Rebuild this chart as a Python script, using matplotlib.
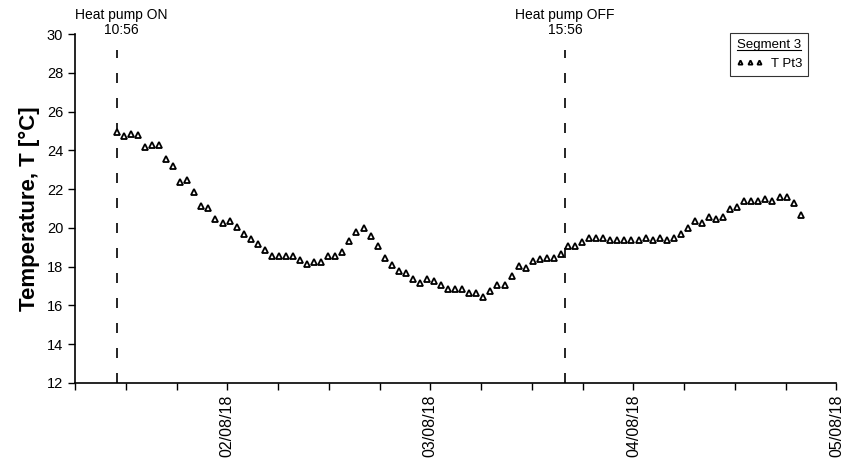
import matplotlib
matplotlib.use("Agg")
import matplotlib.pyplot as plt
import matplotlib.dates as mdates
from matplotlib.lines import Line2D
import pandas as pd
from datetime import datetime

plt.rcParams['font.family'] = ['Liberation Sans', 'DejaVu Sans']

# ---- data ----
start_time = datetime(2018, 8, 1, 10, 56)
sample_step = '50min'
t_pt3 = [24.93, 24.74, 24.86, 24.77, 24.19, 24.27, 24.27, 23.55, 23.19, 22.37,
         22.45, 21.87, 21.14, 21.04, 20.44, 20.25, 20.37, 20.06, 19.67, 19.44,
         19.15, 18.84, 18.55, 18.55, 18.55, 18.55, 18.34, 18.15, 18.26, 18.26,
         18.55, 18.55, 18.76, 19.34, 19.77, 19.98, 19.56, 19.07, 18.46, 18.07,
         17.78, 17.66, 17.36, 17.14, 17.36, 17.24, 17.04, 16.86, 16.86, 16.86,
         16.63, 16.63, 16.45, 16.76, 17.05, 17.05, 17.53, 18.03, 17.95, 18.28,
         18.38, 18.46, 18.46, 18.67, 19.05, 19.05, 19.27, 19.46, 19.46, 19.46,
         19.36, 19.36, 19.36, 19.35, 19.35, 19.46, 19.37, 19.46, 19.37, 19.46,
         19.68, 19.98, 20.37, 20.27, 20.58, 20.46, 20.58, 20.97, 21.08, 21.37,
         21.37, 21.37, 21.47, 21.37, 21.58, 21.58, 21.27, 20.68]
times = pd.date_range(start_time, periods=len(t_pt3), freq=sample_step)

event_times = [datetime(2018, 8, 1, 10, 56), datetime(2018, 8, 3, 15, 56)]
event_labels = ["Heat pump ON\n10:56", "Heat pump OFF\n15:56"]
event_offsets = [3.5, 0]

x_min = datetime(2018, 8, 1, 6, 0)
x_max = datetime(2018, 8, 5, 0, 0)
y_ticks = list(range(12, 31, 2))

# ---- figure ----
fig = plt.figure(figsize=(8.44, 4.59), dpi=100)
ax = fig.add_axes([75 / 844, 1 - 383 / 459, (836.5 - 75) / 844, (383 - 34) / 459])

ax.plot(times, t_pt3, ls='none', marker='^', ms=3.8, mfc='white', mec='black',
        mew=1.3, label='T Pt3', zorder=3)

for t, lab, off in zip(event_times, event_labels, event_offsets):
    ax.plot([t, t], [12, 29.2], color='black', lw=1.2, dashes=(6.0, 9.0), zorder=2)
    ax.annotate(lab, xy=(mdates.date2num(t), 29.85), xycoords='data',
                xytext=(off, 0), textcoords='offset points',
                ha='center', va='bottom', fontsize=10, linespacing=1.05,
                annotation_clip=False)

ax.set_xlim(x_min, x_max)
ax.set_ylim(12, 30)
ax.set_yticks(y_ticks)
ax.tick_params(axis='y', labelsize=10.5, length=5, width=1, direction='out')

ax.xaxis.set_major_locator(mdates.DayLocator())
ax.xaxis.set_major_formatter(mdates.DateFormatter('%d/%m/%y'))
ax.xaxis.set_minor_locator(mdates.HourLocator(byhour=[0, 6, 12, 18]))
ax.tick_params(axis='x', which='both', length=5, width=1, direction='out',
               labelsize=11.5, labelrotation=90)

for s in ['top', 'right']:
    ax.spines[s].set_visible(False)
for s in ['left', 'bottom']:
    ax.spines[s].set_linewidth(1.2)

ax.set_ylabel('Temperature, T [°C]', fontsize=16, fontweight='bold', labelpad=5)

leg = ax.legend(title='Segment 3', numpoints=3, loc='upper right',
                bbox_to_anchor=(808 / 844, 1 - 33 / 459), bbox_transform=fig.transFigure,
                frameon=True, fancybox=False, edgecolor='black', fontsize=9.5,
                title_fontsize=9.5, handlelength=2.0, handletextpad=0.6,
                borderpad=0.45, borderaxespad=0, markerscale=0.8)
leg.get_frame().set_linewidth(0.8)

fig.canvas.draw()
bb = leg.get_title().get_window_extent()
inv = fig.transFigure.inverted()
(x0, y0), (x1, _) = inv.transform([(bb.x0, bb.y0 + 1), (bb.x1, bb.y0 + 1)])
fig.add_artist(Line2D([x0, x1], [y0, y0], transform=fig.transFigure, color='black', lw=0.8))

fig.savefig('out.png', dpi=100)
